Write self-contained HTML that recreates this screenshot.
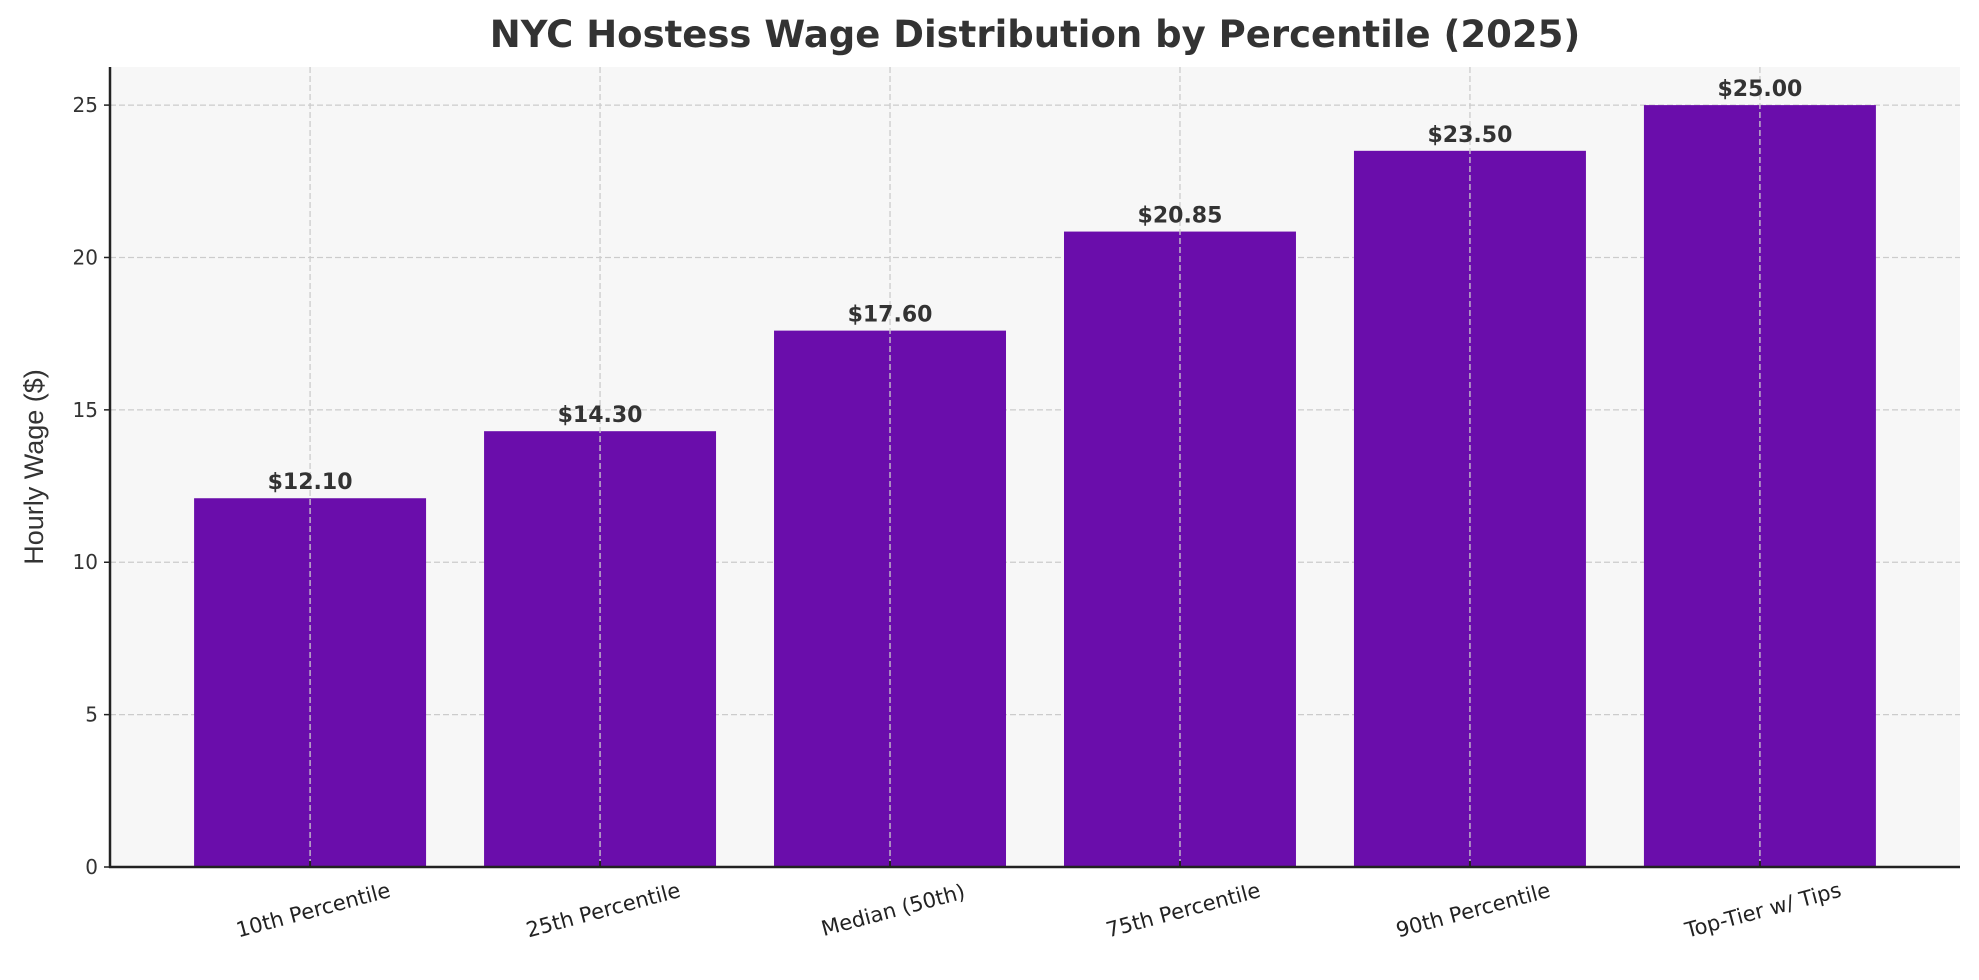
<!DOCTYPE html>
<html><head><meta charset="utf-8"><style>
html,body{margin:0;padding:0;background:#fff;}
svg{display:block;font-family:"DejaVu Sans","Liberation Sans",sans-serif;}
</style></head><body>
<svg id="chart" width="1979" height="980" viewBox="0 0 1979 980" xmlns="http://www.w3.org/2000/svg">
<rect x="0" y="0" width="1979" height="980" fill="#ffffff"/>
<rect x="110" y="67" width="1850" height="800" fill="#f7f7f7"/>
<g id="grid"></g>
<g id="bars"></g>
<g id="labels"></g>
<text x="1035" y="47" text-anchor="middle" font-size="37" font-weight="bold" fill="#333">NYC Hostess Wage Distribution by Percentile (2025)</text>
<text transform="translate(43,467) rotate(-90)" text-anchor="middle" font-size="27" fill="#333" font-family="Liberation Sans Narrow, Liberation Sans, sans-serif">Hourly Wage ($)</text>
<line x1="110" y1="67" x2="110" y2="868" stroke="#222" stroke-width="2.5"/>
<line x1="109" y1="867" x2="1960" y2="867" stroke="#222" stroke-width="2.5"/>
</svg>
<script>
const categories = ["10th Percentile","25th Percentile","Median (50th)","75th Percentile","90th Percentile","Top-Tier w/ Tips"];
const wages = [12.10, 14.30, 17.60, 20.85, 23.50, 25.00];
const valueLabels = ["$12.10","$14.30","$17.60","$20.85","$23.50","$25.00"];
const yTicks = [0,5,10,15,20,25];

const NS = "http://www.w3.org/2000/svg";
const L = 110, R = 1960, T = 67, B = 867;
const yMax = 26.25, xMin = -0.69, xMax = categories.length - 1 + 0.69;
const y = v => B - (v / yMax) * (B - T);
const x = i => L + (i - xMin) / (xMax - xMin) * (R - L);
const bw = 0.8 * (x(1) - x(0));
function mk(tag, attrs, parent) {
  const e = document.createElementNS(NS, tag);
  for (const k in attrs) e.setAttribute(k, attrs[k]);
  parent.appendChild(e);
  return e;
}
const grid = document.getElementById('grid');
const bars = document.getElementById('bars');
const labels = document.getElementById('labels');
yTicks.forEach(t => {
  const g = mk('line', {x1: L, x2: R, y1: y(t), y2: y(t), stroke: '#cccccc', 'stroke-width': 1.3, 'stroke-dasharray': '6,3'}, grid);
  
  
  const tk = mk('line', {x1: L - 6, x2: L, y1: y(t), y2: y(t), stroke: '#222', 'stroke-width': 1.5}, labels);
  
  
  const tl = mk('text', {x: L - 12, y: y(t) + 7, 'text-anchor': 'end', 'font-size': 20, fill: '#333'}, labels);
  
  
  tl.textContent = t;
});
categories.forEach((c, i) => {
  const cx = x(i);
  const b = mk('rect', {x: cx - bw / 2, y: y(wages[i]), width: bw, height: B - y(wages[i]), fill: '#6a0dab'}, bars);
  
  
  const vg = mk('line', {x1: cx, x2: cx, y1: T, y2: B, stroke: '#cccccc', 'stroke-width': 1.3, 'stroke-dasharray': '6,3'}, labels);
  
  
  const tk = mk('line', {x1: cx, x2: cx, y1: B - 6, y2: B, stroke: '#222', 'stroke-width': 2}, labels);
  
  
  const vl = mk('text', {x: cx, y: y(wages[i]) - 9, 'text-anchor': 'middle', 'font-size': 22, 'font-weight': 'bold', fill: '#333'}, labels);
  
  
  vl.textContent = valueLabels[i];
  const xl = mk('text', {transform: 'translate(' + (cx + 5) + ',' + (B + 50) + ') rotate(-15)', 'text-anchor': 'middle', 'font-size': 21, fill: '#222'}, labels);
  
  
  xl.textContent = c;
});
</script>
</body></html>
